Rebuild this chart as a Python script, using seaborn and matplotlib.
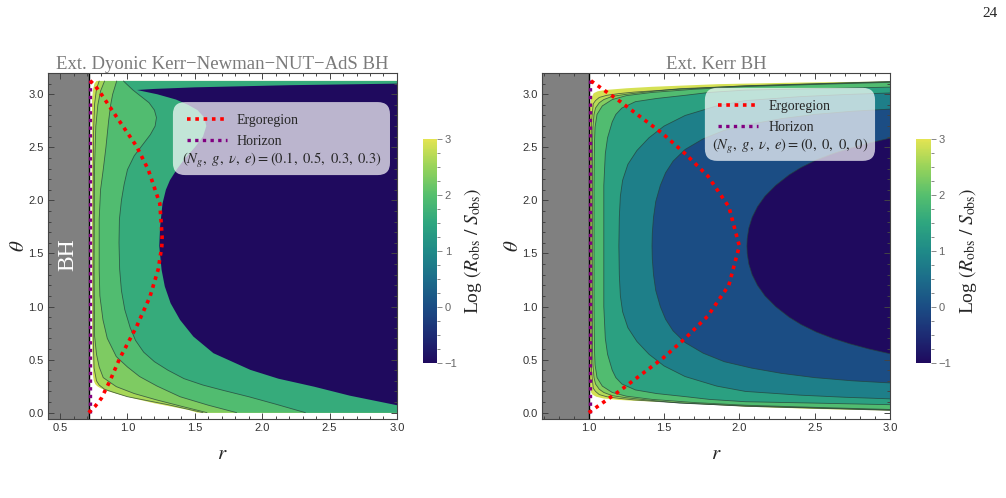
import matplotlib
matplotlib.use("Agg")
import matplotlib.pyplot as plt
import seaborn as sns
from matplotlib.colors import LinearSegmentedColormap, Normalize
from matplotlib.patches import FancyBboxPatch
from matplotlib.lines import Line2D
from matplotlib.ticker import MultipleLocator, FormatStrFormatter
import matplotlib.cm as cm

sns.set_style("ticks")
plt.rcParams['font.family'] = ['Liberation Sans', 'DejaVu Sans']
plt.rcParams['mathtext.fontset'] = 'stix'
SERIF = ['Liberation Serif', 'DejaVu Serif']

# ---------------- colour scale ----------------
CBAR_VALUES = [-1.0, -0.5, 0.0, 0.5, 1.0, 1.5, 2.0, 2.5, 3.0]
CBAR_COLORS = ['#1f0a5e', '#1d2c74', '#1b4d84', '#1c6d8a', '#1f8a88',
               '#2ea67f', '#55bf6e', '#97d35a', '#e3e452']
CBAR_TICKS = [-1, 0, 1, 2, 3]
CBAR_LABEL = r'Log $(R_{\rm obs}\ /\ S_{\rm obs})$'

# ---------------- left panel: Ext. dyonic Kerr-Newman-NUT-AdS ----------------
TITLE_L = 'Ext. Dyonic Kerr\u2212Newman\u2212NUT\u2212AdS BH'
PARAMS_L = r'$(N_g,\ g,\ \nu,\ e) = (0.1,\ 0.5,\ 0.3,\ 0.3)$'
RH_L = 0.712
XLIM_L = (0.41, 3.0)

# contour boundaries (r, theta), outermost first
EDGE_L_R = [1.52, 1.45, 1.2, 1.06, 0.95, 0.86, 0.80, 0.775, 0.76, 0.75, 0.745, 0.738, 0.735,
            0.735, 0.737, 0.745, 0.755, 0.77]
EDGE_L_T = [0.0, 0.026, 0.088, 0.13, 0.167, 0.2, 0.23, 0.25, 0.27, 0.3, 0.34, 0.6, 1.5,
            2.6, 2.95, 3.05, 3.1, 3.125]
L4_R = [1.56, 1.3, 1.0, 0.9, 0.83, 0.79, 0.77, 0.752, 0.746, 0.745, 0.747, 0.755, 0.77, 0.79]
L4_T = [0.0, 0.075, 0.15, 0.19, 0.22, 0.26, 0.3, 0.42, 0.7, 1.57, 2.6, 2.9, 3.05, 3.125]
L3_R = [1.59, 1.4, 1.216, 1.05, 0.917, 0.82, 0.79, 0.77, 0.756, 0.752, 0.755, 0.765, 0.78, 0.80, 0.83]
L3_T = [0.0, 0.06, 0.12, 0.18, 0.245, 0.33, 0.43, 0.55, 0.72, 1.35, 2.3, 2.7, 2.9, 3.03, 3.125]
L2_R = [1.81, 1.6, 1.39, 1.22, 1.09, 1.0, 0.917, 0.85, 0.818, 0.795, 0.79, 0.79, 0.80, 0.82,
        0.84, 0.86, 0.875, 0.89, 0.92]
L2_T = [0.0, 0.07, 0.15, 0.25, 0.34, 0.43, 0.528, 0.7, 0.874, 1.1, 1.35, 1.82, 2.1, 2.29,
        2.5, 2.75, 2.9, 3.0, 3.125]
L1_R = [2.32, 2.1, 1.9, 1.71, 1.56, 1.42, 1.3, 1.2, 1.12, 1.06, 1.02, 0.98, 0.955, 0.942, 0.937,
        0.94, 0.955, 0.975, 1.0, 1.05, 1.11, 1.17, 1.205, 1.215, 1.2, 1.16, 1.1, 1.04, 0.99, 0.97]
L1_T = [0.0, 0.08, 0.15, 0.21, 0.26, 0.32, 0.40, 0.48, 0.57, 0.68, 0.8, 0.97, 1.15, 1.35, 1.6,
        1.82, 2.0, 2.15, 2.29, 2.42, 2.52, 2.62, 2.70, 2.78, 2.85, 2.92, 2.98, 3.04, 3.10, 3.125]
NAVY_L_R = [3.0, 2.93, 2.65, 2.384, 2.12, 1.912, 1.638, 1.489, 1.39, 1.32, 1.277, 1.253, 1.236,
            1.242, 1.26, 1.285, 1.315, 1.37, 1.43, 1.50, 1.56, 1.585, 1.57, 1.52, 1.45, 1.36,
            1.22, 1.07, 1.2, 1.5, 2.2, 3.0]
NAVY_L_T = [0.07, 0.088, 0.16, 0.245, 0.32, 0.403, 0.56, 0.717, 0.874, 1.031, 1.189, 1.346, 1.57,
            1.75, 1.97, 2.1, 2.19, 2.3, 2.4, 2.5, 2.6, 2.7, 2.78, 2.85, 2.9, 2.95,
            3.0, 3.04, 3.05, 3.065, 3.085, 3.10]
BAND_VALUES_L = [2.85, 2.6, 2.3, 1.95, 1.6, -1.0]
LINES_L = [False, True, True, True, True, False]

ERGO_L_R = [0.712, 0.76, 0.806, 0.87, 0.942, 1.067, 1.166, 1.228, 1.255, 1.257, 1.24, 1.154,
            1.067, 0.917, 0.806, 0.76, 0.712]
ERGO_L_T = [0.0, 0.06, 0.135, 0.3, 0.51, 0.81, 1.09, 1.35, 1.57, 1.66, 1.97, 2.29,
            2.51, 2.79, 3.0, 3.08, 3.1416]

# ---------------- right panel: Ext. Kerr ----------------
TITLE_R = 'Ext. Kerr BH'
PARAMS_R = r'$(N_g,\ g,\ \nu,\ e) = (0,\ 0,\ 0,\ 0)$'
RH_R = 1.0
XLIM_R = (0.69, 3.0)

EDGE_R_R = [3.0, 2.5, 2.04, 1.51, 1.3, 1.2, 1.1, 1.05, 1.025, 1.016, 1.01, 1.008, 1.006,
            1.006, 1.008, 1.01, 1.016, 1.033, 1.06, 1.11, 1.25, 1.42, 1.86, 2.4, 3.0]
EDGE_R_T = [0.02, 0.035, 0.057, 0.1, 0.112, 0.12, 0.133, 0.15, 0.17, 0.19, 0.25, 0.35, 1.0,
            2.2, 2.8, 2.9, 2.96, 3.01, 3.028, 3.04, 3.056, 3.07, 3.095, 3.11, 3.12]
G_R = [3.0, 2.04, 1.51, 1.3, 1.2, 1.12, 1.07, 1.045, 1.03, 1.018, 1.015,
       1.015, 1.018, 1.03, 1.045, 1.07, 1.12, 1.2, 1.3, 1.51, 2.04, 3.0]
G_T = [0.022, 0.06, 0.1, 0.12, 0.135, 0.15, 0.17, 0.2, 0.23, 0.4, 1.0,
       2.14, 2.74, 2.91, 2.94, 2.97, 2.99, 3.006, 3.02, 3.04, 3.08, 3.12]
F_R = [3.0, 2.04, 1.6, 1.42, 1.25, 1.156, 1.1, 1.07, 1.045, 1.035, 1.028, 1.025, 1.024,
       1.025, 1.028, 1.035, 1.045, 1.07, 1.1, 1.156, 1.25, 1.42, 1.6, 2.04, 3.0]
F_T = [0.025, 0.063, 0.09, 0.115, 0.14, 0.16, 0.19, 0.22, 0.27, 0.33, 0.45, 0.6, 1.57,
       2.54, 2.69, 2.81, 2.87, 2.92, 2.95, 2.98, 3.0, 3.027, 3.052, 3.078, 3.117]
E_R = [3.0, 2.5, 2.04, 1.7, 1.42, 1.25, 1.156, 1.09, 1.055, 1.042, 1.038, 1.035,
       1.035, 1.038, 1.042, 1.055, 1.09, 1.156, 1.25, 1.42, 1.7, 2.04, 2.5, 3.0]
E_T = [0.03, 0.05, 0.07, 0.095, 0.125, 0.155, 0.19, 0.25, 0.33, 0.45, 0.6, 1.0,
       2.14, 2.54, 2.69, 2.81, 2.89, 2.95, 2.987, 3.017, 3.047, 3.072, 3.092, 3.112]
D_R = [3.0, 2.5, 2.04, 1.8, 1.64, 1.45, 1.31, 1.22, 1.18, 1.156, 1.125, 1.11, 1.10,
       1.10, 1.11, 1.125, 1.156, 1.18, 1.22, 1.31, 1.45, 1.64, 1.8, 2.04, 2.5, 3.0]
D_T = [0.075, 0.09, 0.103, 0.125, 0.151, 0.18, 0.214, 0.27, 0.33, 0.40, 0.55, 0.7, 1.0,
       2.14, 2.44, 2.59, 2.74, 2.81, 2.87, 2.93, 2.96, 2.99, 3.017, 3.039, 3.052, 3.067]
C_R = [3.0, 2.7, 2.4, 2.04, 1.85, 1.64, 1.5, 1.4, 1.32, 1.26, 1.225, 1.21, 1.203, 1.20,
       1.203, 1.21, 1.225, 1.26, 1.32, 1.4, 1.5, 1.64, 1.85, 2.04, 2.4, 2.7, 3.0]
C_T = [0.13, 0.145, 0.165, 0.2, 0.25, 0.34, 0.44, 0.55, 0.67, 0.8, 0.95, 1.1, 1.3, 1.57,
       1.84, 2.04, 2.19, 2.34, 2.47, 2.59, 2.70, 2.80, 2.89, 2.94, 2.977, 2.997, 3.012]
B_R = [3.0, 2.75, 2.5, 2.28, 2.08, 1.9, 1.76, 1.64, 1.56, 1.51, 1.475, 1.445, 1.43, 1.422, 1.42,
       1.422, 1.43, 1.445, 1.475, 1.51, 1.56, 1.64, 1.76, 1.9, 2.08, 2.28, 2.5, 2.75, 3.0]
B_T = [0.28, 0.30, 0.33, 0.37, 0.42, 0.48, 0.56, 0.66, 0.77, 0.88, 1.0, 1.15, 1.3, 1.45, 1.57,
       1.69, 1.84, 1.99, 2.14, 2.26, 2.37, 2.48, 2.58, 2.66, 2.72, 2.77, 2.81, 2.84, 2.86]
A_R = [3.0, 2.86, 2.73, 2.62, 2.51, 2.41, 2.33, 2.24, 2.17, 2.12, 2.085, 2.063, 2.052, 2.05,
       2.052, 2.063, 2.085, 2.12, 2.17, 2.24, 2.33, 2.41, 2.51, 2.62, 2.73, 2.86, 3.0]
A_T = [0.555, 0.6, 0.65, 0.7, 0.76, 0.83, 0.9, 1.0, 1.1, 1.2, 1.3, 1.4, 1.5, 1.57,
       1.64, 1.74, 1.84, 1.94, 2.04, 2.14, 2.24, 2.31, 2.38, 2.44, 2.49, 2.54, 2.586]
BAND_VALUES_R = [2.9, 2.7, 2.35, 1.95, 1.4, 0.8, 0.0, -1.0]
LINES_R = [False, True, True, True, True, True, True, True]

ERGO_R_R = [1.0, 1.10, 1.21, 1.34, 1.49, 1.64, 1.79, 1.93, 2.0, 1.93, 1.79, 1.64, 1.49, 1.34, 1.21, 1.10, 1.0]
ERGO_R_T = [0.0, 0.1, 0.21, 0.35, 0.51, 0.7, 0.91, 1.2, 1.57, 1.94, 2.23, 2.44, 2.63, 2.79, 2.93, 3.04, 3.1416]

HORIZON_T = [0.0, 3.1416]

# ---------------- figure ----------------
cmap = LinearSegmentedColormap.from_list(
    'obs', [((v - CBAR_VALUES[0]) / (CBAR_VALUES[-1] - CBAR_VALUES[0]), c)
            for v, c in zip(CBAR_VALUES, CBAR_COLORS)])
norm = Normalize(vmin=CBAR_VALUES[0], vmax=CBAR_VALUES[-1])

fig = plt.figure(figsize=(10.06, 4.98), dpi=100)
axL = fig.add_axes([0.0477, 0.1586, 0.3469, 0.6948])
axR = fig.add_axes([0.5388, 0.1586, 0.3459, 0.6948])
caxL = fig.add_axes([0.4202, 0.2711, 0.0142, 0.4498])
caxR = fig.add_axes([0.9105, 0.2711, 0.0149, 0.4498])

RED = '#ff0000'
PURPLE = '#800080'
DOT = (0, (1.0, 1.3))


def draw_panel(ax, curves, band_values, line_flags, ergo_r, ergo_t, r_h, xlim,
               title, params, legend_anchor, box, params_xy):
    ax.set_xlim(*xlim)
    ax.set_ylim(-0.06, 3.2)
    ax.axvspan(xlim[0], r_h, color='#808080', lw=0, zorder=1)
    for (r, t), v in zip(curves, band_values):
        ax.fill(list(r) + [3.1, 3.1], list(t) + [t[-1], t[0]],
                color=cmap(norm(v)), lw=0, zorder=2)
    for (r, t), flag in zip(curves, line_flags):
        if flag:
            sns.lineplot(x=r, y=t, sort=False, estimator=None, color='#24403a',
                         lw=0.6, alpha=0.75, ax=ax, zorder=3, legend=False)
    ax.axvline(r_h, color='black', lw=1.0, zorder=4)
    sns.lineplot(x=[r_h + 0.008, r_h + 0.008], y=HORIZON_T, sort=False, estimator=None,
                 color=PURPLE, lw=2.4, linestyle=DOT, ax=ax, zorder=5, legend=False)
    sns.lineplot(x=ergo_r, y=ergo_t, sort=False, estimator=None, color=RED,
                 lw=2.6, linestyle=DOT, ax=ax, zorder=5, legend=False)

    # legend box
    bx0, by0, bx1, by1 = box
    ax.add_patch(FancyBboxPatch((bx0, by0), bx1 - bx0, by1 - by0,
                                boxstyle='round,pad=0,rounding_size=0.035',
                                transform=ax.transAxes, facecolor='white',
                                alpha=0.7, edgecolor='none', zorder=6))
    handles = [Line2D([], [], color=RED, lw=2.6, linestyle=DOT),
               Line2D([], [], color=PURPLE, lw=2.4, linestyle=DOT)]
    leg = ax.legend(handles, ['Ergoregion', 'Horizon'], loc='upper left',
                    bbox_to_anchor=legend_anchor, frameon=False, borderpad=0,
                    borderaxespad=0, handlelength=2.9, handletextpad=0.7,
                    labelspacing=0.55, prop={'family': SERIF, 'size': 10})
    leg.set_zorder(7)
    ax.text(params_xy[0], params_xy[1], params, transform=ax.transAxes,
            ha='center', va='center', fontsize=10.5, zorder=7)

    ax.set_title(title, family=SERIF, fontsize=13.5, color='#7a7a7a', pad=3)
    ax.set_xlabel('$r$', fontsize=15, labelpad=8)
    ax.set_ylabel(r'$\theta$', fontsize=15, labelpad=0)
    ax.xaxis.set_major_locator(MultipleLocator(0.5))
    ax.yaxis.set_major_locator(MultipleLocator(0.5))
    ax.xaxis.set_minor_locator(MultipleLocator(0.1))
    ax.yaxis.set_minor_locator(MultipleLocator(0.1))
    ax.xaxis.set_major_formatter(FormatStrFormatter('%.1f'))
    ax.yaxis.set_major_formatter(FormatStrFormatter('%.1f'))
    ax.tick_params(which='both', direction='in', top=True, right=True,
                   color='#444444', width=0.7, labelsize=8, labelcolor='#333333', pad=3)
    ax.tick_params(which='major', length=4)
    ax.tick_params(which='minor', length=2.2)
    for s in ax.spines.values():
        s.set_color('#444444')
        s.set_linewidth(0.8)
        s.set_zorder(8)
    ax.set_axisbelow(False)


curves_L = [(EDGE_L_R, EDGE_L_T), (L4_R, L4_T), (L3_R, L3_T), (L2_R, L2_T),
            (L1_R, L1_T), (NAVY_L_R, NAVY_L_T)]
curves_R = [(EDGE_R_R, EDGE_R_T), (G_R, G_T), (F_R, F_T), (E_R, E_T), (D_R, D_T),
            (C_R, C_T), (B_R, B_T), (A_R, A_T)]

draw_panel(axL, curves_L, BAND_VALUES_L, LINES_L, ERGO_L_R, ERGO_L_T, RH_L, XLIM_L,
           TITLE_L, PARAMS_L, (0.397, 0.8815), (0.358, 0.705, 0.980, 0.916), (0.670, 0.746))
draw_panel(axR, curves_R, BAND_VALUES_R, LINES_R, ERGO_R_R, ERGO_R_T, RH_R, XLIM_R,
           TITLE_R, PARAMS_R, (0.506, 0.922), (0.468, 0.746, 0.957, 0.957), (0.713, 0.787))

axL.text(0.554, 1.49, 'BH', rotation=90, color='white', fontsize=17, family=SERIF,
         ha='center', va='center', zorder=4)

for cax in (caxL, caxR):
    cb = fig.colorbar(cm.ScalarMappable(norm=norm, cmap=cmap), cax=cax)
    cb.set_ticks(CBAR_TICKS)
    cb.ax.yaxis.set_minor_locator(MultipleLocator(0.25))
    cb.outline.set_visible(False)
    cb.ax.tick_params(which='both', color='#888888', labelcolor='#666666',
                      labelsize=8, width=0.7, pad=2)
    cb.ax.tick_params(which='major', length=3.5)
    cb.ax.tick_params(which='minor', length=2)
    cb.ax.text(3.5, 0.5, CBAR_LABEL, rotation=90, ha='center', va='center',
               fontsize=14, family=SERIF, transform=cb.ax.transAxes)

fig.text(0.984, 0.972, '24', family=SERIF, fontsize=11, ha='center', va='center')

fig.savefig('out.png', dpi=100)
